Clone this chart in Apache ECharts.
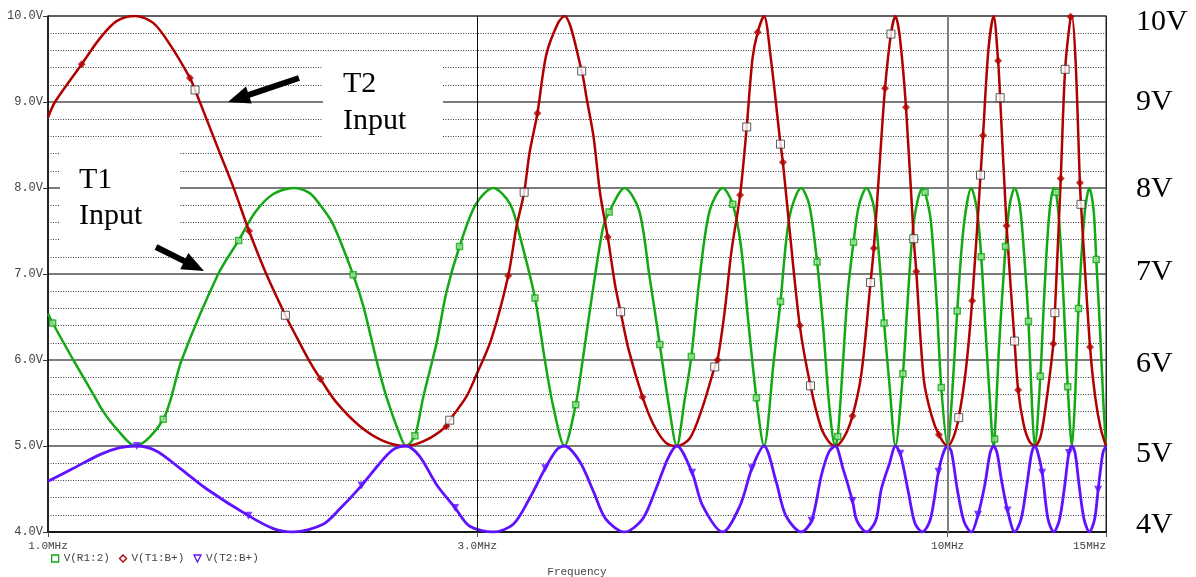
<!DOCTYPE html>
<html>
<head>
<meta charset="utf-8">
<script src="https://cdn.jsdelivr.net/npm/echarts@6/dist/echarts.min.js"></script>
<style>
html, body { margin: 0; padding: 0; background: #fff; }
#chart { width: 1196px; height: 577px; }
</style>
</head>
<body>
<div id="chart"></div>
<script>
// Frequency axis ticks (MHz) and their labels
const freqTicks = [1, 3, 10, 15];
const freqTickLabels = ['1.0MHz', '3.0MHz', '10MHz', '15MHz'];

// V(R1:2) trace, [frequency MHz, volts]
const vR1 = [
  [1.000, 6.54], [1.067, 6.00], [1.123, 5.60], [1.152, 5.40], [1.192, 5.20], [1.250, 5.00],
  [1.408, 6.00], [1.546, 7.00], [1.700, 7.72], [1.780, 7.93], [1.876, 8.00],
  [1.954, 7.94], [2.004, 7.81], [2.074, 7.58], [2.241, 6.63], [2.318, 6.00], [2.378, 5.57], [2.459, 5.14], [2.500, 5.00],
  [2.613, 5.57], [2.704, 6.20], [2.773, 6.79], [2.989, 7.81], [3.125, 8.00],
  [3.265, 7.81], [3.350, 7.42], [3.567, 6.00], [3.646, 5.45], [3.750, 5.00],
  [3.930, 6.00], [4.020, 6.71], [4.140, 7.54], [4.375, 8.00],
  [4.540, 7.74], [4.660, 6.99], [4.890, 5.53], [5.000, 5.00],
  [5.100, 5.53], [5.300, 6.95], [5.440, 7.74], [5.625, 8.00],
  [5.890, 7.34], [6.000, 6.48], [6.250, 5.00],
  [6.410, 6.00], [6.670, 7.66], [6.875, 8.00], [7.020, 7.80],
  [7.270, 6.40], [7.390, 5.45], [7.500, 5.00],
  [7.650, 5.96], [7.740, 6.75], [7.970, 7.80], [8.125, 8.00], [8.280, 7.78], [8.400, 7.15], [8.620, 5.70], [8.750, 5.00],
  [9.030, 6.70], [9.170, 7.60], [9.375, 8.00], [9.580, 7.62], [9.720, 6.70], [10.000, 5.00],
  [10.110, 5.55], [10.420, 7.55], [10.625, 8.00], [10.780, 7.75], [11.020, 6.35], [11.140, 5.55], [11.250, 5.00],
  [11.400, 6.10], [11.720, 7.80], [11.875, 8.00], [12.030, 7.80], [12.170, 7.20], [12.420, 5.40], [12.500, 5.00],
  [12.800, 6.70], [12.960, 7.65], [13.125, 8.00], [13.330, 7.50], [13.470, 6.60], [13.750, 5.00],
  [13.850, 5.50], [14.200, 7.70], [14.375, 8.00], [14.530, 7.75], [14.780, 6.30], [14.900, 5.50], [15.000, 5.00]
];
// V(R1:2) marker positions
const vR1Marks = [
  [1.012, 6.43], [1.343, 5.31], [1.629, 7.39], [2.184, 6.99], [2.558, 5.12], [2.867, 7.32],
  [3.478, 6.72], [3.860, 5.48], [4.205, 7.72], [4.787, 6.18], [5.190, 6.04], [5.770, 7.81],
  [6.130, 5.56], [6.520, 6.68], [7.160, 7.14], [7.550, 5.11], [7.860, 7.37], [8.500, 6.43],
  [8.920, 5.84], [9.440, 7.95], [9.840, 5.68], [10.250, 6.57], [10.900, 7.20], [11.280, 5.08],
  [11.600, 7.32], [12.300, 6.45], [12.680, 5.81], [13.200, 7.95], [13.600, 5.69], [13.980, 6.60],
  [14.630, 7.17]
];

// V(T1:B+) trace
const vT1 = [
  [1.000, 8.82], [1.018, 9.00], [1.142, 9.74], [1.192, 9.94], [1.250, 10.00], [1.309, 9.92], [1.366, 9.67],
  [1.475, 9.00], [1.552, 8.41], [1.607, 8.01], [1.750, 6.99], [1.891, 6.26], [1.954, 5.98],
  [2.091, 5.51], [2.222, 5.23], [2.358, 5.06], [2.500, 5.00], [2.634, 5.07], [2.917, 5.57], [2.989, 5.81],
  [3.110, 6.24], [3.316, 7.54], [3.430, 8.41], [3.580, 9.55], [3.690, 9.92], [3.750, 10.00],
  [3.970, 9.04], [4.040, 8.60], [4.110, 7.93], [4.270, 6.87], [4.420, 6.12], [4.710, 5.25], [4.860, 5.04],
  [5.000, 5.00], [5.170, 5.09], [5.340, 5.45], [5.650, 6.55], [5.750, 7.26], [6.070, 9.51], [6.250, 10.00],
  [6.360, 9.51], [6.670, 7.54], [7.230, 5.22], [7.390, 5.04], [7.500, 5.00], [7.670, 5.10], [8.020, 5.84],
  [8.400, 8.25], [8.750, 10.00], [8.850, 9.75], [9.410, 5.77], [9.600, 5.35], [10.000, 5.00], [10.150, 5.10],
  [10.470, 5.85], [11.100, 9.60], [11.250, 10.00], [12.150, 5.25], [12.320, 5.06], [12.500, 5.00], [12.680, 5.10],
  [12.850, 5.45], [13.750, 10.00], [13.880, 9.45], [14.600, 5.55], [14.800, 5.20], [15.000, 5.00]
];
// V(T1:B+) diamond markers
const vT1Marks = [
  [1.090, 9.44], [1.438, 9.28], [1.673, 7.50], [2.008, 5.78], [2.773, 5.23], [3.248, 6.98], [3.500, 8.87],
  [4.190, 7.43], [4.580, 5.57], [5.550, 6.00], [5.880, 7.92], [6.150, 9.81], [6.560, 8.30], [6.850, 6.40],
  [7.840, 5.35], [8.280, 7.30], [8.520, 9.16], [8.990, 8.94], [9.230, 7.03], [9.780, 5.13], [10.650, 6.69],
  [10.950, 8.61], [11.380, 9.48], [11.630, 7.56], [11.980, 5.65], [13.110, 6.19], [13.360, 8.11],
  [13.700, 9.99], [14.030, 8.06], [14.400, 6.15]
];
// Square probe markers sitting on the V(T1:B+) trace
const vT1Probe = [
  [1.457, 9.14], [1.836, 6.52], [2.796, 5.30], [3.383, 7.95], [3.920, 9.36], [4.330, 6.56], [5.510, 5.92],
  [5.980, 8.71], [6.520, 8.51], [7.040, 5.70], [8.210, 6.90], [8.650, 9.79], [9.170, 7.41], [10.290, 5.33],
  [10.880, 8.15], [11.440, 9.05], [11.870, 6.22], [13.160, 6.55], [13.510, 9.38], [14.070, 7.81]
];

// V(T2:B+) trace
const vT2 = [
  [1.000, 4.59], [1.067, 4.74], [1.142, 4.90], [1.202, 4.98], [1.250, 5.00], [1.321, 4.94], [1.402, 4.74],
  [1.501, 4.50], [1.780, 4.04], [1.875, 4.00], [2.022, 4.09], [2.111, 4.27], [2.338, 4.80], [2.421, 4.96],
  [2.500, 5.00], [2.589, 4.88], [2.704, 4.55], [2.940, 4.07], [3.125, 4.00], [3.290, 4.09], [3.430, 4.39],
  [3.680, 4.96], [3.750, 5.00], [3.900, 4.82], [4.040, 4.47], [4.170, 4.15], [4.375, 4.00], [4.580, 4.15],
  [4.740, 4.50], [4.890, 4.86], [5.000, 5.00], [5.340, 4.31], [5.625, 4.00], [5.880, 4.31], [6.250, 5.00],
  [6.450, 4.58], [6.610, 4.19], [6.875, 4.00], [7.240, 4.66], [7.380, 4.93], [7.500, 5.00], [7.650, 4.74],
  [7.930, 4.13], [8.125, 4.00], [8.320, 4.13], [8.440, 4.50], [8.620, 4.80], [8.750, 5.00], [9.050, 4.45],
  [9.200, 4.10], [9.375, 4.00], [9.570, 4.15], [9.900, 4.93], [10.000, 5.00], [10.100, 4.93], [10.250, 4.50],
  [10.430, 4.12], [10.625, 4.00], [11.000, 4.55], [11.150, 4.92], [11.250, 5.00], [11.350, 4.92], [11.480, 4.60],
  [11.875, 4.00], [12.070, 4.15], [12.250, 4.55], [12.400, 4.92], [12.500, 5.00], [12.600, 4.92], [12.930, 4.15],
  [13.125, 4.00], [13.320, 4.15], [13.500, 4.55], [13.750, 5.00], [13.860, 4.92], [14.000, 4.55], [14.180, 4.15],
  [14.375, 4.00], [14.570, 4.15], [14.880, 4.92], [15.000, 5.00]
];
// V(T2:B+) triangle markers
const vT2Marks = [
  [1.255, 5.00], [1.670, 4.19], [2.231, 4.54], [2.835, 4.28], [3.570, 4.74], [5.200, 4.69], [6.060, 4.74],
  [7.060, 4.13], [7.840, 4.36], [8.860, 4.91], [9.770, 4.70], [10.810, 4.20], [11.660, 4.25], [12.740, 4.69],
  [13.640, 4.92], [14.700, 4.49]
];

const GREEN = '#14a814';
const RED = '#b00000';
const PURPLE = '#6012ff';
const MONO = '"Liberation Mono", "DejaVu Sans Mono", monospace';
const SERIF = '"Liberation Serif", "DejaVu Serif", serif';

// a trace is drawn through its own points plus the points where its markers sit
function traceLine() {
  const all = [];
  for (const arr of arguments) for (const p of arr) all.push(p);
  return all.slice().sort((a, b) => a[0] - b[0]);
}

// filled arrow polygon from tail to tip
function arrow(tail, tip, shaftHalf, headLen, headHalf) {
  const dx = tip[0] - tail[0], dy = tip[1] - tail[1];
  const len = Math.hypot(dx, dy);
  const ux = dx / len, uy = dy / len, nx = -uy, ny = ux;
  const bx = tip[0] - ux * headLen, by = tip[1] - uy * headLen;
  return [
    [tail[0] + nx * shaftHalf, tail[1] + ny * shaftHalf],
    [bx + nx * shaftHalf, by + ny * shaftHalf],
    [bx + nx * headHalf, by + ny * headHalf],
    tip,
    [bx - nx * headHalf, by - ny * headHalf],
    [bx - nx * shaftHalf, by - ny * shaftHalf],
    [tail[0] - nx * shaftHalf, tail[1] - ny * shaftHalf]
  ];
}

const freqLabel = v => {
  const i = freqTicks.findIndex(t => Math.abs(t - v) < t * 1e-3);
  return i >= 0 ? freqTickLabels[i] : '';
};

// per-label nudges for the large right-hand volt labels
const rightRich = {
  t10: { fontFamily: SERIF, fontSize: 30, color: '#000', padding: [12, 0, 0, 0] },
  t9: { fontFamily: SERIF, fontSize: 30, color: '#000', padding: [0, 0, 0, 0] },
  t8: { fontFamily: SERIF, fontSize: 30, color: '#000', padding: [3, 0, 0, 0] },
  t7: { fontFamily: SERIF, fontSize: 30, color: '#000', padding: [0, 0, 3, 0] },
  t6: { fontFamily: SERIF, fontSize: 30, color: '#000', padding: [8, 0, 0, 0] },
  t5: { fontFamily: SERIF, fontSize: 30, color: '#000', padding: [16, 0, 0, 0] },
  t4: { fontFamily: SERIF, fontSize: 30, color: '#000', padding: [0, 0, 14, 0] }
};

const chart = echarts.init(document.getElementById('chart'), null, { renderer: 'canvas' });

const option = {
  backgroundColor: '#fff',
  animation: false,
  grid: {
    left: 48, right: 90, top: 16, bottom: 45,
    outerBoundsMode: 'none', containLabel: false,
    show: true, borderColor: '#222', borderWidth: 1
  },
  legend: {
    left: 46, top: 548, itemWidth: 7, itemHeight: 7, itemGap: 9,
    textStyle: { fontFamily: MONO, fontSize: 11, color: '#444' },
    data: [
      { name: 'V(R1:2)', icon: 'rect', itemStyle: { color: '#fff', borderColor: GREEN, borderWidth: 1.3 } },
      { name: 'V(T1:B+)', icon: 'diamond', itemStyle: { color: '#fff', borderColor: RED, borderWidth: 1.3 } },
      { name: 'V(T2:B+)', icon: 'path://M0,0L10,0L5,10Z', itemStyle: { color: '#fff', borderColor: PURPLE, borderWidth: 1.3 } }
    ]
  },
  xAxis: {
    type: 'log', logBase: 10, min: 1, max: 15,
    axisLine: { show: true, lineStyle: { color: '#000', width: 1.5 } },
    axisTick: { show: true, customValues: freqTicks, length: 5, lineStyle: { color: '#555' } },
    axisLabel: {
      customValues: freqTicks, formatter: freqLabel, margin: 9,
      fontFamily: MONO, fontSize: 11, color: '#444', alignMaxLabel: 'right'
    },
    splitLine: { show: false },
    minorSplitLine: { show: false },
    name: 'Frequency', nameLocation: 'middle', nameGap: 35,
    nameTextStyle: { fontFamily: MONO, fontSize: 11, color: '#444' }
  },
  yAxis: [
    {
      type: 'value', min: 4, max: 10, interval: 1, position: 'left',
      axisLine: { show: true, lineStyle: { color: '#000', width: 1.5 } },
      axisTick: { show: true, length: 5, lineStyle: { color: '#333' } },
      axisLabel: { formatter: v => v.toFixed(1) + 'V', margin: 5, fontFamily: MONO, fontSize: 12, color: '#444' },
      splitLine: { show: true, lineStyle: { color: '#505050', width: 1.5 } },
      minorTick: { show: false, splitNumber: 5 },
      minorSplitLine: { show: true, lineStyle: { color: '#3a3a3a', width: 1, type: [1, 1.5] } }
    },
    {
      type: 'value', min: 4, max: 10, interval: 1, position: 'right',
      axisLine: { show: true, lineStyle: { color: '#222', width: 1 } },
      axisTick: { show: false },
      splitLine: { show: false },
      axisLabel: {
        margin: 30, showMinLabel: true, showMaxLabel: true,
        formatter: v => '{t' + v + '|' + v + 'V}', rich: rightRich
      }
    }
  ],
  graphic: [
    { type: 'rect', z: 1, shape: { x: 323, y: 56, width: 120, height: 90 }, style: { fill: '#fff' } },
    { type: 'rect', z: 1, shape: { x: 60, y: 146, width: 120, height: 104 }, style: { fill: '#fff' } },
    { type: 'text', z: 10, style: { text: 'T2', x: 343, y: 84, font: '30px ' + SERIF, fill: '#000', verticalAlign: 'middle' } },
    { type: 'text', z: 10, style: { text: 'Input', x: 343, y: 121, font: '30px ' + SERIF, fill: '#000', verticalAlign: 'middle' } },
    { type: 'text', z: 10, style: { text: 'T1', x: 79, y: 180, font: '30px ' + SERIF, fill: '#000', verticalAlign: 'middle' } },
    { type: 'text', z: 10, style: { text: 'Input', x: 79, y: 216, font: '30px ' + SERIF, fill: '#000', verticalAlign: 'middle' } },
    { type: 'polygon', z: 10, shape: { points: arrow([299, 78], [228, 102], 3, 22, 9) }, style: { fill: '#000' } },
    { type: 'polygon', z: 10, shape: { points: arrow([156, 247], [204, 271], 3, 22, 9) }, style: { fill: '#000' } }
  ],
  series: [
    {
      name: 'gridlines', type: 'line', data: [], z: 1, silent: true,
      markLine: {
        silent: true, symbol: ['none', 'none'], label: { show: false },
        data: [
          { xAxis: 3, lineStyle: { color: '#111', width: 1, type: 'solid' } },
          { xAxis: 10, lineStyle: { color: '#808080', width: 2, type: 'solid' } }
        ]
      }
    },
    {
      name: 'V(R1:2)', type: 'line', z: 2, data: traceLine(vR1, vR1Marks), showSymbol: false,
      smooth: 0.3, lineStyle: { color: GREEN, width: 2.5 }, itemStyle: { color: GREEN }
    },
    {
      name: 'V(T1:B+)', type: 'line', z: 3, data: traceLine(vT1, vT1Marks, vT1Probe), showSymbol: false,
      smooth: 0.3, lineStyle: { color: RED, width: 2.5 }, itemStyle: { color: RED }
    },
    {
      name: 'V(T2:B+)', type: 'line', z: 4, data: traceLine(vT2, vT2Marks), showSymbol: false,
      smooth: 0.3, lineStyle: { color: PURPLE, width: 2.8 }, itemStyle: { color: PURPLE }
    },
    {
      name: 'R1 marks', type: 'scatter', z: 5, data: vR1Marks, symbol: 'rect', symbolSize: 6,
      itemStyle: { color: '#9be39b', borderColor: GREEN, borderWidth: 1.5 }
    },
    {
      name: 'T1 marks', type: 'scatter', z: 5, data: vT1Marks, symbol: 'diamond', symbolSize: 8,
      itemStyle: { color: RED }
    },
    {
      name: 'T1 probe', type: 'scatter', z: 6, data: vT1Probe, symbol: 'rect', symbolSize: 8,
      itemStyle: { color: '#fff', borderColor: '#333', borderWidth: 1 }
    },
    {
      name: 'T2 marks', type: 'scatter', z: 5, data: vT2Marks, symbol: 'triangle', symbolRotate: 180, symbolSize: 8,
      itemStyle: { color: PURPLE }
    }
  ]
};

chart.setOption(option);
</script>
</body>
</html>
